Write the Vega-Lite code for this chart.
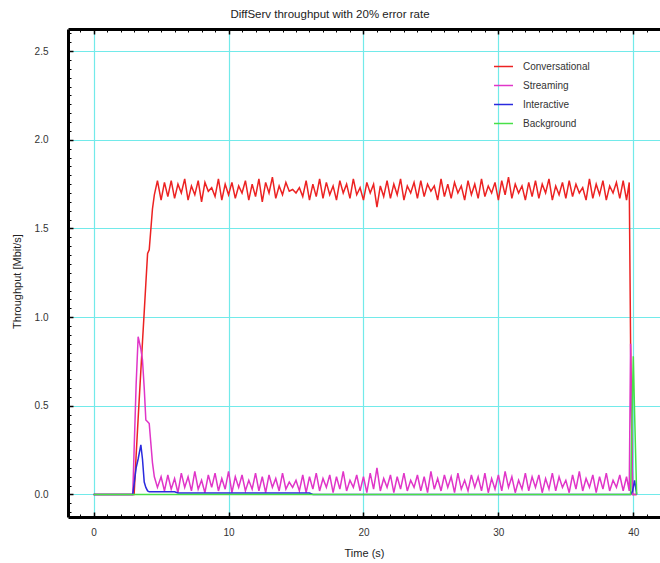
{
  "$schema": "https://vega.github.io/schema/vega-lite/v6.json",
  "width": 592,
  "height": 488,
  "autosize": {"type": "none"},
  "padding": {"left": 68, "top": 29, "right": 0, "bottom": 46},
  "background": "white",
  "title": {"text": "DiffServ throughput with 20% error rate", "fontSize": 11.5, "fontWeight": "normal", "font": "Liberation Sans", "color": "#222222", "anchor": "middle", "dx": -34, "offset": 8},
  "config": {"view": {"stroke": null}, "font": "Liberation Sans"},
  "resolve": {"axis": {"x": "independent", "y": "independent"}},
  "layer": [
    {
      "data": {"values": [
        {"t":0,"Conversational":0,"Streaming":0,"Interactive":0,"Background":0},
        {"t":2.9,"Conversational":0,"Streaming":0,"Interactive":0,"Background":0},
        {"t":3.0,"Conversational":0,"Streaming":0.25,"Interactive":0.06,"Background":0},
        {"t":3.15,"Conversational":0.22,"Streaming":0.62,"Interactive":0.15,"Background":0},
        {"t":3.3,"Conversational":0.43,"Streaming":0.89,"Interactive":0.2,"Background":0},
        {"t":3.5,"Conversational":0.7,"Streaming":0.82,"Interactive":0.28,"Background":0},
        {"t":3.62,"Conversational":0.86,"Streaming":0.76,"Interactive":0.2,"Background":0},
        {"t":3.75,"Conversational":1.03,"Streaming":0.6,"Interactive":0.07,"Background":0},
        {"t":3.87,"Conversational":1.19,"Streaming":0.42,"Interactive":0.04,"Background":0},
        {"t":4.0,"Conversational":1.36,"Streaming":0.41,"Interactive":0.02,"Background":0},
        {"t":4.12,"Conversational":1.38,"Streaming":0.4,"Interactive":0.015,"Background":0},
        {"t":4.36,"Conversational":1.61,"Streaming":0.18,"Interactive":0.015,"Background":0},
        {"t":4.5,"Conversational":1.69,"Streaming":0.1,"Interactive":0.015,"Background":0},
        {"t":4.73,"Conversational":1.77,"Streaming":0.04,"Interactive":0.015,"Background":0},
        {"t":5.0,"Conversational":1.66,"Streaming":0.10,"Interactive":0.015,"Background":0},
        {"t":5.25,"Conversational":1.76,"Streaming":0.02,"Interactive":0.015,"Background":0},
        {"t":5.5,"Conversational":1.68,"Streaming":0.11,"Interactive":0.015,"Background":0},
        {"t":5.75,"Conversational":1.77,"Streaming":0.03,"Interactive":0.015,"Background":0},
        {"t":6.0,"Conversational":1.67,"Streaming":0.09,"Interactive":0.015,"Background":0},
        {"t":6.25,"Conversational":1.75,"Streaming":0.01,"Interactive":0.008,"Background":0},
        {"t":6.5,"Conversational":1.70,"Streaming":0.12,"Interactive":0.008,"Background":0},
        {"t":6.75,"Conversational":1.78,"Streaming":0.04,"Interactive":0.008,"Background":0},
        {"t":7.0,"Conversational":1.66,"Streaming":0.10,"Interactive":0.008,"Background":0},
        {"t":7.25,"Conversational":1.74,"Streaming":0.02,"Interactive":0.008,"Background":0},
        {"t":7.5,"Conversational":1.69,"Streaming":0.13,"Interactive":0.008,"Background":0},
        {"t":7.75,"Conversational":1.77,"Streaming":0.03,"Interactive":0.008,"Background":0},
        {"t":8.0,"Conversational":1.65,"Streaming":0.08,"Interactive":0.008,"Background":0},
        {"t":8.25,"Conversational":1.76,"Streaming":0.01,"Interactive":0.008,"Background":0},
        {"t":8.5,"Conversational":1.71,"Streaming":0.11,"Interactive":0.008,"Background":0},
        {"t":8.75,"Conversational":1.73,"Streaming":0.04,"Interactive":0.008,"Background":0},
        {"t":9.0,"Conversational":1.68,"Streaming":0.12,"Interactive":0.008,"Background":0},
        {"t":9.25,"Conversational":1.78,"Streaming":0.02,"Interactive":0.008,"Background":0},
        {"t":9.5,"Conversational":1.66,"Streaming":0.09,"Interactive":0.008,"Background":0},
        {"t":9.75,"Conversational":1.75,"Streaming":0.03,"Interactive":0.008,"Background":0},
        {"t":10.0,"Conversational":1.69,"Streaming":0.13,"Interactive":0.008,"Background":0},
        {"t":10.25,"Conversational":1.76,"Streaming":0.01,"Interactive":0.008,"Background":0},
        {"t":10.5,"Conversational":1.67,"Streaming":0.10,"Interactive":0.008,"Background":0},
        {"t":10.75,"Conversational":1.74,"Streaming":0.04,"Interactive":0.008,"Background":0},
        {"t":11.0,"Conversational":1.70,"Streaming":0.11,"Interactive":0.008,"Background":0},
        {"t":11.25,"Conversational":1.77,"Streaming":0.02,"Interactive":0.008,"Background":0},
        {"t":11.5,"Conversational":1.66,"Streaming":0.08,"Interactive":0.008,"Background":0},
        {"t":11.75,"Conversational":1.75,"Streaming":0.03,"Interactive":0.008,"Background":0},
        {"t":12.0,"Conversational":1.68,"Streaming":0.12,"Interactive":0.008,"Background":0},
        {"t":12.25,"Conversational":1.78,"Streaming":0.02,"Interactive":0.008,"Background":0},
        {"t":12.5,"Conversational":1.65,"Streaming":0.10,"Interactive":0.008,"Background":0},
        {"t":12.75,"Conversational":1.76,"Streaming":0.01,"Interactive":0.008,"Background":0},
        {"t":13.0,"Conversational":1.70,"Streaming":0.11,"Interactive":0.008,"Background":0},
        {"t":13.25,"Conversational":1.79,"Streaming":0.04,"Interactive":0.008,"Background":0},
        {"t":13.5,"Conversational":1.67,"Streaming":0.09,"Interactive":0.008,"Background":0},
        {"t":13.75,"Conversational":1.74,"Streaming":0.02,"Interactive":0.008,"Background":0},
        {"t":14.0,"Conversational":1.69,"Streaming":0.12,"Interactive":0.008,"Background":0},
        {"t":14.25,"Conversational":1.76,"Streaming":0.03,"Interactive":0.008,"Background":0},
        {"t":14.5,"Conversational":1.71,"Streaming":0.07,"Interactive":0.008,"Background":0},
        {"t":14.75,"Conversational":1.72,"Streaming":0.04,"Interactive":0.008,"Background":0},
        {"t":15.0,"Conversational":1.70,"Streaming":0.08,"Interactive":0.008,"Background":0},
        {"t":15.25,"Conversational":1.73,"Streaming":0.02,"Interactive":0.008,"Background":0},
        {"t":15.5,"Conversational":1.68,"Streaming":0.11,"Interactive":0.008,"Background":0},
        {"t":15.75,"Conversational":1.77,"Streaming":0.01,"Interactive":0.008,"Background":0},
        {"t":16.0,"Conversational":1.66,"Streaming":0.10,"Interactive":0.008,"Background":0},
        {"t":16.25,"Conversational":1.75,"Streaming":0.03,"Interactive":0,"Background":0},
        {"t":16.5,"Conversational":1.68,"Streaming":0.12,"Interactive":0,"Background":0},
        {"t":16.75,"Conversational":1.78,"Streaming":0.02,"Interactive":0,"Background":0},
        {"t":17.0,"Conversational":1.67,"Streaming":0.09,"Interactive":0,"Background":0},
        {"t":17.25,"Conversational":1.76,"Streaming":0.04,"Interactive":0,"Background":0},
        {"t":17.5,"Conversational":1.69,"Streaming":0.11,"Interactive":0,"Background":0},
        {"t":17.75,"Conversational":1.74,"Streaming":0.01,"Interactive":0,"Background":0},
        {"t":18.0,"Conversational":1.66,"Streaming":0.10,"Interactive":0,"Background":0},
        {"t":18.25,"Conversational":1.77,"Streaming":0.03,"Interactive":0,"Background":0},
        {"t":18.5,"Conversational":1.70,"Streaming":0.13,"Interactive":0,"Background":0},
        {"t":18.75,"Conversational":1.75,"Streaming":0.02,"Interactive":0,"Background":0},
        {"t":19.0,"Conversational":1.67,"Streaming":0.08,"Interactive":0,"Background":0},
        {"t":19.25,"Conversational":1.78,"Streaming":0.04,"Interactive":0,"Background":0},
        {"t":19.5,"Conversational":1.69,"Streaming":0.11,"Interactive":0,"Background":0},
        {"t":19.75,"Conversational":1.73,"Streaming":0.02,"Interactive":0,"Background":0},
        {"t":20.0,"Conversational":1.66,"Streaming":0.10,"Interactive":0,"Background":0},
        {"t":20.25,"Conversational":1.76,"Streaming":0.01,"Interactive":0,"Background":0},
        {"t":20.5,"Conversational":1.70,"Streaming":0.12,"Interactive":0,"Background":0},
        {"t":20.75,"Conversational":1.75,"Streaming":0.03,"Interactive":0,"Background":0},
        {"t":21.0,"Conversational":1.62,"Streaming":0.15,"Interactive":0,"Background":0},
        {"t":21.25,"Conversational":1.74,"Streaming":0.02,"Interactive":0,"Background":0},
        {"t":21.5,"Conversational":1.68,"Streaming":0.09,"Interactive":0,"Background":0},
        {"t":21.75,"Conversational":1.77,"Streaming":0.04,"Interactive":0,"Background":0},
        {"t":22.0,"Conversational":1.67,"Streaming":0.11,"Interactive":0,"Background":0},
        {"t":22.25,"Conversational":1.75,"Streaming":0.01,"Interactive":0,"Background":0},
        {"t":22.5,"Conversational":1.69,"Streaming":0.10,"Interactive":0,"Background":0},
        {"t":22.75,"Conversational":1.78,"Streaming":0.03,"Interactive":0,"Background":0},
        {"t":23.0,"Conversational":1.66,"Streaming":0.12,"Interactive":0,"Background":0},
        {"t":23.25,"Conversational":1.74,"Streaming":0.02,"Interactive":0,"Background":0},
        {"t":23.5,"Conversational":1.70,"Streaming":0.08,"Interactive":0,"Background":0},
        {"t":23.75,"Conversational":1.76,"Streaming":0.04,"Interactive":0,"Background":0},
        {"t":24.0,"Conversational":1.67,"Streaming":0.11,"Interactive":0,"Background":0},
        {"t":24.25,"Conversational":1.77,"Streaming":0.02,"Interactive":0,"Background":0},
        {"t":24.5,"Conversational":1.68,"Streaming":0.10,"Interactive":0,"Background":0},
        {"t":24.75,"Conversational":1.75,"Streaming":0.01,"Interactive":0,"Background":0},
        {"t":25.0,"Conversational":1.71,"Streaming":0.13,"Interactive":0,"Background":0},
        {"t":25.25,"Conversational":1.74,"Streaming":0.03,"Interactive":0,"Background":0},
        {"t":25.5,"Conversational":1.66,"Streaming":0.09,"Interactive":0,"Background":0},
        {"t":25.75,"Conversational":1.78,"Streaming":0.02,"Interactive":0,"Background":0},
        {"t":26.0,"Conversational":1.68,"Streaming":0.11,"Interactive":0,"Background":0},
        {"t":26.25,"Conversational":1.75,"Streaming":0.04,"Interactive":0,"Background":0},
        {"t":26.5,"Conversational":1.67,"Streaming":0.10,"Interactive":0,"Background":0},
        {"t":26.75,"Conversational":1.76,"Streaming":0.01,"Interactive":0,"Background":0},
        {"t":27.0,"Conversational":1.70,"Streaming":0.12,"Interactive":0,"Background":0},
        {"t":27.25,"Conversational":1.74,"Streaming":0.03,"Interactive":0,"Background":0},
        {"t":27.5,"Conversational":1.66,"Streaming":0.08,"Interactive":0,"Background":0},
        {"t":27.75,"Conversational":1.77,"Streaming":0.02,"Interactive":0,"Background":0},
        {"t":28.0,"Conversational":1.69,"Streaming":0.11,"Interactive":0,"Background":0},
        {"t":28.25,"Conversational":1.75,"Streaming":0.04,"Interactive":0,"Background":0},
        {"t":28.5,"Conversational":1.67,"Streaming":0.10,"Interactive":0,"Background":0},
        {"t":28.75,"Conversational":1.78,"Streaming":0.02,"Interactive":0,"Background":0},
        {"t":29.0,"Conversational":1.68,"Streaming":0.12,"Interactive":0,"Background":0},
        {"t":29.25,"Conversational":1.74,"Streaming":0.01,"Interactive":0,"Background":0},
        {"t":29.5,"Conversational":1.70,"Streaming":0.09,"Interactive":0,"Background":0},
        {"t":29.75,"Conversational":1.76,"Streaming":0.03,"Interactive":0,"Background":0},
        {"t":30.0,"Conversational":1.66,"Streaming":0.11,"Interactive":0,"Background":0},
        {"t":30.25,"Conversational":1.77,"Streaming":0.02,"Interactive":0,"Background":0},
        {"t":30.5,"Conversational":1.69,"Streaming":0.13,"Interactive":0,"Background":0},
        {"t":30.75,"Conversational":1.79,"Streaming":0.04,"Interactive":0,"Background":0},
        {"t":31.0,"Conversational":1.67,"Streaming":0.10,"Interactive":0,"Background":0},
        {"t":31.25,"Conversational":1.75,"Streaming":0.01,"Interactive":0,"Background":0},
        {"t":31.5,"Conversational":1.70,"Streaming":0.08,"Interactive":0,"Background":0},
        {"t":31.75,"Conversational":1.74,"Streaming":0.03,"Interactive":0,"Background":0},
        {"t":32.0,"Conversational":1.66,"Streaming":0.12,"Interactive":0,"Background":0},
        {"t":32.25,"Conversational":1.76,"Streaming":0.02,"Interactive":0,"Background":0},
        {"t":32.5,"Conversational":1.68,"Streaming":0.10,"Interactive":0,"Background":0},
        {"t":32.75,"Conversational":1.77,"Streaming":0.04,"Interactive":0,"Background":0},
        {"t":33.0,"Conversational":1.67,"Streaming":0.11,"Interactive":0,"Background":0},
        {"t":33.25,"Conversational":1.75,"Streaming":0.01,"Interactive":0,"Background":0},
        {"t":33.5,"Conversational":1.70,"Streaming":0.09,"Interactive":0,"Background":0},
        {"t":33.75,"Conversational":1.78,"Streaming":0.03,"Interactive":0,"Background":0},
        {"t":34.0,"Conversational":1.66,"Streaming":0.12,"Interactive":0,"Background":0},
        {"t":34.25,"Conversational":1.74,"Streaming":0.02,"Interactive":0,"Background":0},
        {"t":34.5,"Conversational":1.69,"Streaming":0.10,"Interactive":0,"Background":0},
        {"t":34.75,"Conversational":1.76,"Streaming":0.04,"Interactive":0,"Background":0},
        {"t":35.0,"Conversational":1.67,"Streaming":0.08,"Interactive":0,"Background":0},
        {"t":35.25,"Conversational":1.77,"Streaming":0.01,"Interactive":0,"Background":0},
        {"t":35.5,"Conversational":1.68,"Streaming":0.11,"Interactive":0,"Background":0},
        {"t":35.75,"Conversational":1.75,"Streaming":0.03,"Interactive":0,"Background":0},
        {"t":36.0,"Conversational":1.70,"Streaming":0.13,"Interactive":0,"Background":0},
        {"t":36.25,"Conversational":1.73,"Streaming":0.02,"Interactive":0,"Background":0},
        {"t":36.5,"Conversational":1.66,"Streaming":0.09,"Interactive":0,"Background":0},
        {"t":36.75,"Conversational":1.78,"Streaming":0.04,"Interactive":0,"Background":0},
        {"t":37.0,"Conversational":1.67,"Streaming":0.11,"Interactive":0,"Background":0},
        {"t":37.25,"Conversational":1.75,"Streaming":0.01,"Interactive":0,"Background":0},
        {"t":37.5,"Conversational":1.69,"Streaming":0.10,"Interactive":0,"Background":0},
        {"t":37.75,"Conversational":1.77,"Streaming":0.03,"Interactive":0,"Background":0},
        {"t":38.0,"Conversational":1.66,"Streaming":0.12,"Interactive":0,"Background":0},
        {"t":38.25,"Conversational":1.74,"Streaming":0.02,"Interactive":0,"Background":0},
        {"t":38.5,"Conversational":1.70,"Streaming":0.08,"Interactive":0,"Background":0},
        {"t":38.75,"Conversational":1.76,"Streaming":0.04,"Interactive":0,"Background":0},
        {"t":39.0,"Conversational":1.67,"Streaming":0.11,"Interactive":0,"Background":0},
        {"t":39.25,"Conversational":1.77,"Streaming":0.02,"Interactive":0,"Background":0},
        {"t":39.5,"Conversational":1.66,"Streaming":0.10,"Interactive":0,"Background":0},
        {"t":39.7,"Conversational":1.76,"Streaming":0.02,"Interactive":0,"Background":0},
        {"t":39.8,"Conversational":0.85,"Streaming":0.85,"Interactive":0,"Background":0},
        {"t":39.95,"Conversational":0,"Streaming":0,"Interactive":0.02,"Background":0.6},
        {"t":40.0,"Conversational":0,"Streaming":0,"Interactive":0.04,"Background":0.78},
        {"t":40.1,"Conversational":0,"Streaming":0,"Interactive":0.08,"Background":0.45},
        {"t":40.25,"Conversational":0,"Streaming":0,"Interactive":0,"Background":0}
      ]},
      "transform": [{"fold": ["Conversational", "Streaming", "Interactive", "Background"], "as": ["series", "value"]}],
      "mark": {"type": "line", "strokeWidth": 1.5},
      "encoding": {
        "x": {"field": "t", "type": "quantitative",
          "scale": {"domain": [-1.9, 41.98], "nice": false, "zero": false},
          "axis": {"orient": "bottom", "values": [0, 10, 20, 30, 40], "title": "Time (s)",
            "grid": true, "gridColor": "#72eaea", "gridWidth": 1.2,
            "domainColor": "black", "domainWidth": 3,
            "tickColor": "black", "tickSize": -5, "tickWidth": 1.5,
            "labelPadding": 15, "labelFontSize": 10, "labelColor": "#333333", "labelFont": "Liberation Sans",
            "titleFontSize": 11, "titleFontWeight": "normal", "titleColor": "#222222", "titleFont": "Liberation Sans",
            "titleY": 36, "titleBaseline": "middle"}},
        "y": {"field": "value", "type": "quantitative",
          "scale": {"domain": [-0.127, 2.625], "nice": false, "zero": false},
          "axis": {"orient": "left", "values": [0, 0.5, 1, 1.5, 2, 2.5], "format": ".1f", "title": "Throughput [Mbit/s]",
            "grid": true, "gridColor": "#72eaea", "gridWidth": 1.2,
            "domainColor": "black", "domainWidth": 3,
            "tickColor": "black", "tickSize": -5, "tickWidth": 1.5,
            "labelPadding": 25, "labelFontSize": 10, "labelColor": "#333333", "labelFont": "Liberation Sans",
            "titleFontSize": 11, "titleFontWeight": "normal", "titleColor": "#222222", "titleFont": "Liberation Sans",
            "titleX": -51, "titleY": 252, "titleBaseline": "middle", "titleAngle": -90}},
        "color": {"field": "series", "type": "nominal",
          "scale": {"domain": ["Conversational", "Streaming", "Interactive", "Background"], "range": ["#ec2222", "#e035c8", "#2a2ade", "#48e048"]},
          "legend": {"orient": "none", "legendX": 425, "legendY": 27, "title": null,
            "symbolType": "stroke", "symbolSize": 361, "symbolStrokeWidth": 1.5,
            "labelFontSize": 10, "labelColor": "#333333", "labelFont": "Liberation Sans", "labelOffset": 9,
            "rowPadding": 3, "padding": 0}}
      }
    },
    {
      "data": {"values": [{"t": 0, "value": 0}]},
      "mark": {"type": "point", "opacity": 0},
      "encoding": {
        "x": {"field": "t", "type": "quantitative",
          "scale": {"domain": [-1.9, 41.98], "nice": false, "zero": false},
          "axis": {"orient": "bottom", "values": [-1,0,1,2,3,4,5,6,7,8,9,10,11,12,13,14,15,16,17,18,19,20,21,22,23,24,25,26,27,28,29,30,31,32,33,34,35,36,37,38,39,40,41],
            "labels": false, "grid": false, "domain": false, "title": null,
            "tickColor": "black", "tickSize": -3, "tickWidth": 1}},
        "y": {"field": "value", "type": "quantitative",
          "scale": {"domain": [-0.127, 2.625], "nice": false, "zero": false},
          "axis": {"orient": "left", "values": [-0.1,-0.05,0,0.05,0.1,0.15,0.2,0.25,0.3,0.35,0.4,0.45,0.5,0.55,0.6,0.65,0.7,0.75,0.8,0.85,0.9,0.95,1,1.05,1.1,1.15,1.2,1.25,1.3,1.35,1.4,1.45,1.5,1.55,1.6,1.65,1.7,1.75,1.8,1.85,1.9,1.95,2,2.05,2.1,2.15,2.2,2.25,2.3,2.35,2.4,2.45,2.5,2.55,2.6],
            "labels": false, "grid": false, "domain": false, "title": null,
            "tickColor": "black", "tickSize": -3, "tickWidth": 1}}
      }
    },
    {
      "data": {"values": [{"t": 0, "value": 0}]},
      "mark": {"type": "point", "opacity": 0},
      "encoding": {
        "x": {"field": "t", "type": "quantitative",
          "scale": {"domain": [-1.9, 41.98], "nice": false, "zero": false},
          "axis": {"orient": "top", "values": [-1,0,1,2,3,4,5,6,7,8,9,10,11,12,13,14,15,16,17,18,19,20,21,22,23,24,25,26,27,28,29,30,31,32,33,34,35,36,37,38,39,40,41],
            "labels": false, "grid": false, "domain": false, "title": null,
            "tickColor": "black", "tickSize": -3, "tickWidth": 1}},
        "y": {"field": "value", "type": "quantitative",
          "scale": {"domain": [-0.127, 2.625], "nice": false, "zero": false},
          "axis": null}
      }
    },
    {
      "data": {"values": [{"t": 0, "value": 0}]},
      "mark": {"type": "point", "opacity": 0},
      "encoding": {
        "x": {"field": "t", "type": "quantitative",
          "scale": {"domain": [-1.9, 41.98], "nice": false, "zero": false},
          "axis": {"orient": "top", "values": [0, 10, 20, 30, 40],
            "labels": false, "grid": false, "title": null,
            "domain": true, "domainColor": "black", "domainWidth": 3,
            "tickColor": "black", "tickSize": -5, "tickWidth": 1.5}},
        "y": {"field": "value", "type": "quantitative",
          "scale": {"domain": [-0.127, 2.625], "nice": false, "zero": false},
          "axis": null}
      }
    }
  ]
}
